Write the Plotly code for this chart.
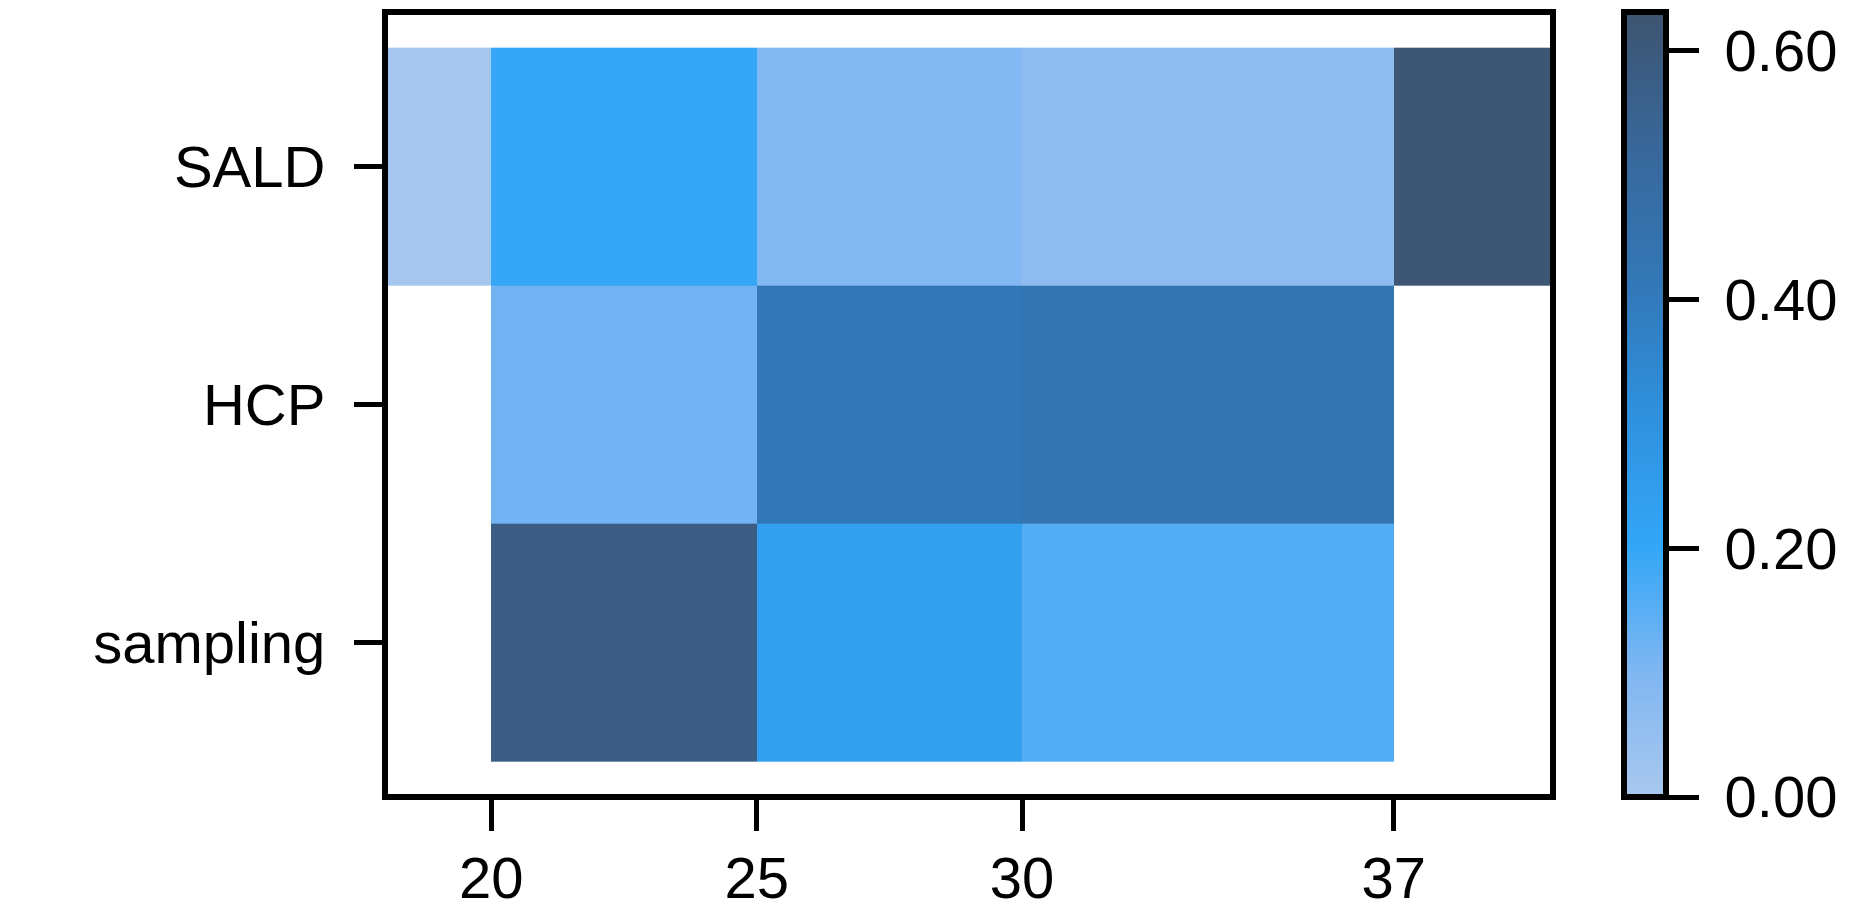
import plotly.graph_objects as go

# column edges (temperature) and row labels
x_edges = [18, 20, 25, 30, 37, 40]
x_ticks = [20, 25, 30, 37]
rows = ["SALD", "HCP", "sampling"]
cbar_ticks = [0, 0.2, 0.4, 0.6]

sald = [0.01, 0.198, 0.09, 0.065, 0.62]
hcp = [None, 0.12, 0.415, 0.44, None]
sampling = [None, 0.58, 0.235, 0.16, None]

colorscale = [
    [0.0, "#a9c8ee"],
    [0.16, "#7fb6f2"],
    [0.32, "#33a6f7"],
    [0.5, "#2f8fdb"],
    [0.65, "#3278b8"],
    [0.82, "#38689c"],
    [1.0, "#3d5470"],
]

font = dict(family="Liberation Sans, Arial, sans-serif", size=58, color="black")

fig = go.Figure(
    go.Heatmap(
        x=x_edges,
        y=rows,
        z=[sald, hcp, sampling],
        zmin=0,
        zmax=0.631,
        colorscale=colorscale,
        hoverongaps=False,
        colorbar=dict(
            x=1.061,
            xanchor="left",
            y=0,
            yanchor="bottom",
            len=1.0,
            ypad=0,
            xpad=0,
            thickness=42,
            outlinewidth=6,
            outlinecolor="black",
            tickvals=cbar_ticks,
            # small space in front of the label to push it away from the tick
            ticktext=["\u2005" + f"{v:.2f}" for v in cbar_ticks],
            ticks="outside",
            ticklen=30,
            tickwidth=5,
            tickcolor="black",
            tickfont=font,
        ),
    )
)

axis_style = dict(
    ticks="outside",
    tickwidth=5,
    tickcolor="black",
    showline=False,
    showgrid=False,
    zeroline=False,
    automargin=False,
)
fig.update_xaxes(range=[18, 40], tickvals=x_ticks, ticklen=33,
                 ticklabelstandoff=-3, **axis_style)
fig.update_yaxes(range=[2.65, -0.65], ticklen=30,
                 ticklabelstandoff=17, **axis_style)

# frame centred on the plot edges
fig.add_shape(type="rect", xref="paper", yref="paper", x0=0, x1=1, y0=0, y1=1,
              line=dict(color="black", width=6), layer="above")

fig.update_layout(
    width=1849,
    height=921,
    margin=dict(l=377, r=304, t=4, b=132),
    plot_bgcolor="white",
    paper_bgcolor="white",
    font=font,
)

fig.write_html("out.html")
